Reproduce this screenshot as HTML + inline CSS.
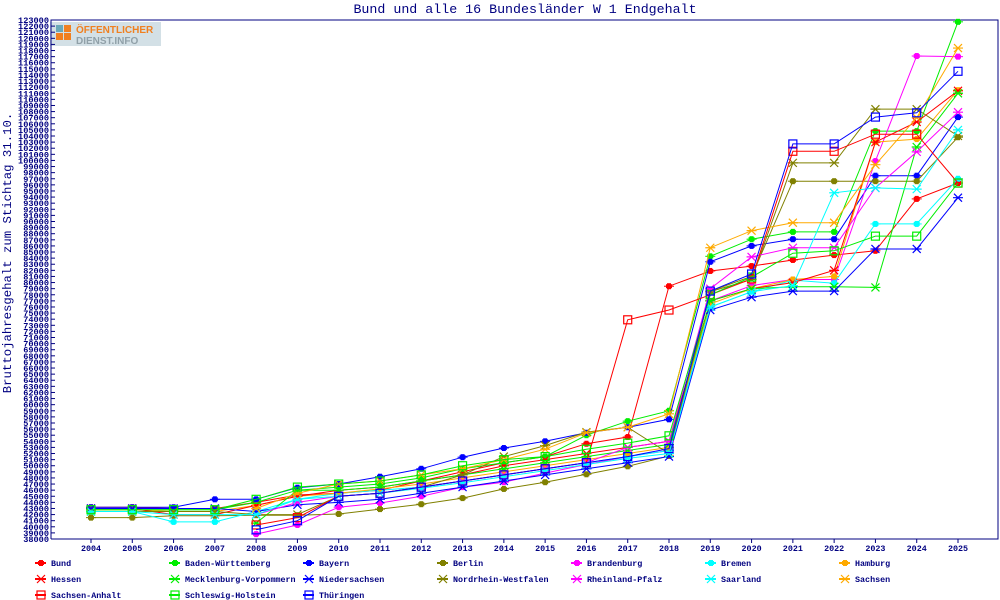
<!DOCTYPE html>
<html><head><meta charset="utf-8"><style>
body{margin:0;background:#fff;}
svg{display:block;font-family:"Liberation Mono",monospace;}
</style></head><body>
<svg id="chart" width="1000" height="600" viewBox="0 0 1000 600" xmlns="http://www.w3.org/2000/svg">
<text x="525" y="13" text-anchor="middle" font-size="13.3" fill="#000080">Bund und alle 16 Bundesländer W 1 Endgehalt</text>
<text transform="translate(11,253) rotate(-90)" text-anchor="middle" font-size="12.3" fill="#000080">Bruttojahresgehalt zum Stichtag 31.10.</text>
<g>
<rect x="50" y="22" width="111" height="24" fill="#c8d8e0" opacity="0.8"/>
<rect x="56" y="25" width="7" height="7" fill="#6aa8b8"/><rect x="64" y="25" width="7" height="7" fill="#f08020"/>
<rect x="56" y="33" width="7" height="7" fill="#f08020"/><rect x="64" y="33" width="7" height="7" fill="#f08020"/>
<text x="76" y="33" font-size="10" font-weight="bold" fill="#f08020" font-family="Liberation Sans, sans-serif">ÖFFENTLICHER</text>
<text x="76" y="44" font-size="10" font-weight="bold" fill="#90a0a8" font-family="Liberation Sans, sans-serif">DIENST.INFO</text>
</g>
<g id="axes"></g>
<g id="series"></g>
<g id="legend"></g>
</svg>
<script>
const years = [2004,2005,2006,2007,2008,2009,2010,2011,2012,2013,2014,2015,2016,2017,2018,2019,2020,2021,2022,2023,2024,2025];
const names = ["Bund","Baden-Württemberg","Bayern","Berlin","Brandenburg","Bremen","Hamburg","Hessen","Mecklenburg-Vorpommern","Niedersachsen","Nordrhein-Westfalen","Rheinland-Pfalz","Saarland","Sachsen","Sachsen-Anhalt","Schleswig-Holstein","Thüringen"];
const colors = ["#ff0000","#00ee00","#0000ff","#808000","#ff00ff","#00ffff","#ffaa00","#ff0000","#00ee00","#0000ff","#808000","#ff00ff","#00ffff","#ffaa00","#ff0000","#00ee00","#0000ff"];
const markers = ["dot","dot","dot","dot","dot","dot","dot","x","x","x","x","x","x","x","sq","sq","sq"];
const N = null;
const sBund = [43.2,43.2,43.0,43.0,44.0,45.2,45.5,46.0,47.5,49.0,50.5,51.5,53.6,54.7,79.4,81.9,82.7,83.7,84.5,85.2,93.7,96.3];
const sBW = [42.8,42.8,42.8,42.8,44.0,46.0,46.5,47.0,48.0,49.5,50.5,51.5,55.0,57.3,59.0,84.3,87.1,88.3,88.3,104.8,104.8,122.7];
const sBY = [43.2,43.2,43.2,44.5,44.5,46.4,47.0,48.2,49.5,51.4,52.9,54.0,55.4,56.3,57.6,83.4,86.0,87.1,87.1,97.5,97.5,107.1];
const sBE = [41.5,41.5,41.8,41.8,41.9,41.9,42.1,42.9,43.7,44.7,46.2,47.3,48.6,49.9,51.6,78.6,81.0,96.6,96.6,96.6,96.6,103.8];
const sBB = [N,N,N,N,38.8,40.3,43.2,43.9,45.0,46.5,47.3,48.8,50.2,51.5,52.5,77.0,79.5,80.5,80.5,99.9,117.1,117.0];
const sHB = [42.5,42.5,40.8,40.8,42.5,44.5,45.5,46.0,46.5,47.5,48.5,49.5,50.5,51.5,52.5,76.0,78.5,80.4,79.9,89.6,89.6,97.0];
const sHH = [42.8,42.8,42.5,42.5,43.5,45.0,45.5,46.2,47.0,48.0,49.0,50.0,51.0,52.0,53.0,76.5,79.0,80.5,81.0,103.0,103.5,111.5];
const sHE = [43.0,43.0,42.0,42.0,43.5,45.0,46.0,46.5,47.5,48.5,50.0,51.0,52.0,53.0,54.0,77.0,79.0,80.0,82.0,103.0,106.3,111.4];
const sMV = [N,N,N,N,40.6,46.0,46.0,46.5,47.5,48.5,49.5,50.5,51.5,52.5,53.5,77.0,79.0,79.3,79.3,79.2,102.2,111.0];
const sNI = [43.0,43.0,43.0,43.0,42.5,43.6,44.0,44.5,45.5,46.5,47.5,48.5,49.5,50.5,51.5,75.5,77.6,78.6,78.6,85.5,85.5,93.9];
const sNW = [42.5,42.5,42.5,42.5,42.0,42.0,45.0,45.5,46.5,48.5,51.5,53.3,55.5,56.3,52.0,78.5,80.5,99.6,99.6,108.4,108.4,104.0];
const sRP = [N,N,N,N,42.0,44.0,45.0,45.5,46.5,47.5,48.5,49.5,50.5,53.0,54.0,79.0,84.2,85.7,85.7,95.5,101.4,107.9];
const sSL = [42.5,42.5,42.0,42.0,42.0,44.5,45.0,45.5,46.3,47.2,48.2,49.2,50.2,51.2,52.0,76.0,78.5,79.5,94.7,95.5,95.3,105.0];
const sSN = [N,N,N,N,43.0,45.5,47.0,47.5,48.5,49.5,51.0,52.7,55.4,56.3,58.5,85.7,88.5,89.8,89.8,99.3,107.0,118.4];
const sST = [N,N,N,N,40.3,41.5,45.0,45.5,46.5,47.5,48.5,49.5,50.5,73.9,75.5,78.0,80.6,101.5,101.5,104.3,104.3,96.3];
const sSH = [42.8,42.8,42.8,42.8,44.5,46.5,47.0,47.5,48.5,50.0,51.0,51.5,52.7,53.7,54.9,78.0,80.9,84.8,85.2,87.6,87.6,96.3];
const sTH = [N,N,N,N,39.5,41.0,45.0,45.5,46.5,47.5,48.5,49.5,50.5,51.5,52.8,78.6,81.4,102.7,102.7,107.1,107.8,114.6];
const series = [sBund,sBW,sBY,sBE,sBB,sHB,sHH,sHE,sMV,sNI,sNW,sRP,sSL,sSN,sST,sSH,sTH];
const yMin = 38, yMax = 123;

const NS = "http://www.w3.org/2000/svg";
const L = 51, R = 998, T = 20, B = 539;
function xPos(i){ return 91 + i * (958 - 91) / (years.length - 1); }
function yPos(v){ return B - (v - yMin) / (yMax - yMin) * (B - T); }
function mk(tag, attrs, parent){ const e = document.createElementNS(NS, tag); for (const k in attrs) e.setAttribute(k, attrs[k]); parent.appendChild(e); return e; }

const axes = document.getElementById('axes');
mk('polyline', {points:`${L},${B} ${L},${T} ${R},${T} ${R},${B} ${L},${B}`, fill:'none', stroke:'#000080', 'stroke-width':1}, axes);
for (let v = yMin; v <= yMax; v++) {
  const y = yPos(v);
  mk('line', {x1:L, x2:L+4, y1:y, y2:y, stroke:'#000080'}, axes);
  const t = mk('text', {x:L-2, y:y+3, 'text-anchor':'end', 'font-size':8.6, fill:'#000080', 'font-weight':'bold'}, axes);
  t.textContent = (v*1000).toString();
  
  
}
years.forEach((yr, i) => {
  const x = xPos(i);
  mk('line', {x1:x, x2:x, y1:B, y2:B+4, stroke:'#000080'}, axes);
  const t = mk('text', {x:x, y:B+12, 'text-anchor':'middle', 'font-size':8.4, fill:'#000080', 'font-weight':'bold'}, axes);
  t.textContent = yr;
  
  
});

function marker(type, x, y, c, parent){
  if (type === 'dot') {
    mk('rect', {x:x-3, y:y-2, width:6, height:4, fill:c}, parent);
    mk('rect', {x:x-2, y:y-3, width:4, height:6, fill:c}, parent);
    mk('line', {x1:x-5, x2:x+5, y1:y, y2:y, stroke:c}, parent);
  } else if (type === 'x') {
    mk('path', {d:`M${x-4},${y-4}L${x+4},${y+4}M${x-4},${y+4}L${x+4},${y-4}M${x-5},${y}L${x+5},${y}`, stroke:c, 'stroke-width':1.2, fill:'none'}, parent);
  } else {
    mk('rect', {x:x-4, y:y-4, width:8, height:8, fill:'none', stroke:c, 'stroke-width':1.2}, parent);
  }
}

const sg = document.getElementById('series');
series.forEach((s, k) => {
  const g = mk('g', {}, sg);
  
  
  const pts = [];
  s.forEach((v, i) => { if (v !== null) pts.push(xPos(i).toFixed(1) + ',' + yPos(v).toFixed(1)); });
  mk('polyline', {points:pts.join(' '), fill:'none', stroke:colors[k], 'stroke-width':1}, g);
  s.forEach((v, i) => { if (v !== null) marker(markers[k], xPos(i), yPos(v), colors[k], g); });
});

const lg = document.getElementById('legend');
names.forEach((n, k) => {
  const col = k % 7, row = Math.floor(k / 7);
  const tx = 51 + col * 134, y = 563 + row * 16;
  const g = mk('g', {}, lg);
  
  
  mk('line', {x1:tx-16, x2:tx-5, y1:y, y2:y, stroke:colors[k], 'stroke-width':2}, g);
  marker(markers[k], tx-10, y, colors[k], g);
  const t = mk('text', {x:tx, y:y+3, 'font-size':8.4, fill:'#000080', 'font-weight':'bold'}, g);
  t.textContent = n;
});
</script>
</body></html>
